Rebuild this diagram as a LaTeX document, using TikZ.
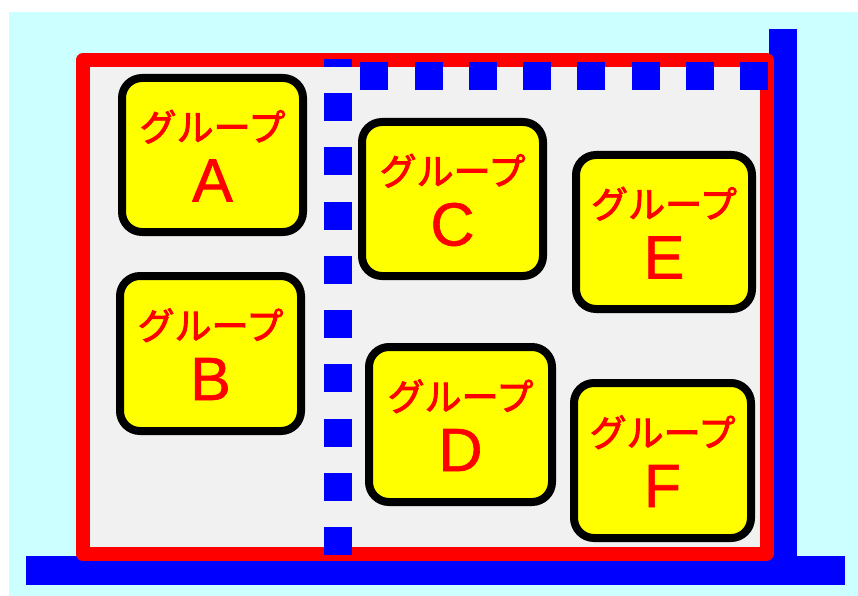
\documentclass[tikz,border=0pt]{standalone}
\usepackage{fontspec}
\newfontfamily\jpfont[FakeBold=2.5]{Noto Sans CJK JP}
\newfontfamily\latinfont[FakeBold=1]{Liberation Sans}
\usetikzlibrary{calc}
\definecolor{bgcyan}{HTML}{CCFFFF}
\definecolor{panelgray}{HTML}{F1F1F1}
\definecolor{boxyellow}{HTML}{FFFF00}
\definecolor{txtred}{HTML}{FF0000}
\definecolor{wallblue}{HTML}{0000FF}
\tikzset{
  grp/.style={draw=black, line width=8pt, fill=boxyellow, rounded corners=20pt, inner sep=0pt},
  jplabel/.style={anchor=base, inner sep=0pt, text=txtred, font=\jpfont\fontsize{37}{37}\selectfont},
  letterlabel/.style={anchor=base, inner sep=0pt, text=txtred, font=\latinfont\fontsize{61}{61}\selectfont},
  wall/.style={draw=wallblue, line cap=butt},
  dashwall/.style={draw=wallblue, line width=28pt, dash pattern=on 28pt off 26.25pt, line cap=butt},
}
\begin{document}
\begin{tikzpicture}[x=1pt,y=-1pt]
\useasboundingbox (0,0) rectangle (858,596);
\fill[bgcyan] (9,12) rectangle (858,596);
% solid blue walls
\draw[wall, line width=28pt] (783,29) -- (783,570);
\draw[wall, line width=29pt] (26,570.5) -- (845,570.5);
% red frame
\draw[draw=txtred, fill=panelgray, line width=14pt, line join=round] (82.5,60.5) rectangle (766.5,553.5);
% dashed blue walls
\draw[dashwall] (338,555) -- (338,59);
\draw[dashwall] (768,76) -- (345,76);
% group boxes
\node[grp, minimum width=181pt, minimum height=154pt] (A) at (212.5,155) {};
\node[grp, minimum width=181pt, minimum height=155pt] (B) at (210.5,353.5) {};
\node[grp, minimum width=181pt, minimum height=154pt] (C) at (452.5,199) {};
\node[grp, minimum width=183pt, minimum height=155pt] (D) at (460.5,424.5) {};
\node[grp, minimum width=176pt, minimum height=154pt] (E) at (664,232) {};
\node[grp, minimum width=177pt, minimum height=155pt] (F) at (662.5,460.5) {};
\foreach \g in {A,B,C,D,E,F}{
  \node[jplabel] (\g-jp) at ($(\g.center)+(0,-14)$) {グループ};
  \node[letterlabel] (\g-id) at ($(\g.center)+(0,46.5)$) {\g};
}
\end{tikzpicture}
\end{document}
